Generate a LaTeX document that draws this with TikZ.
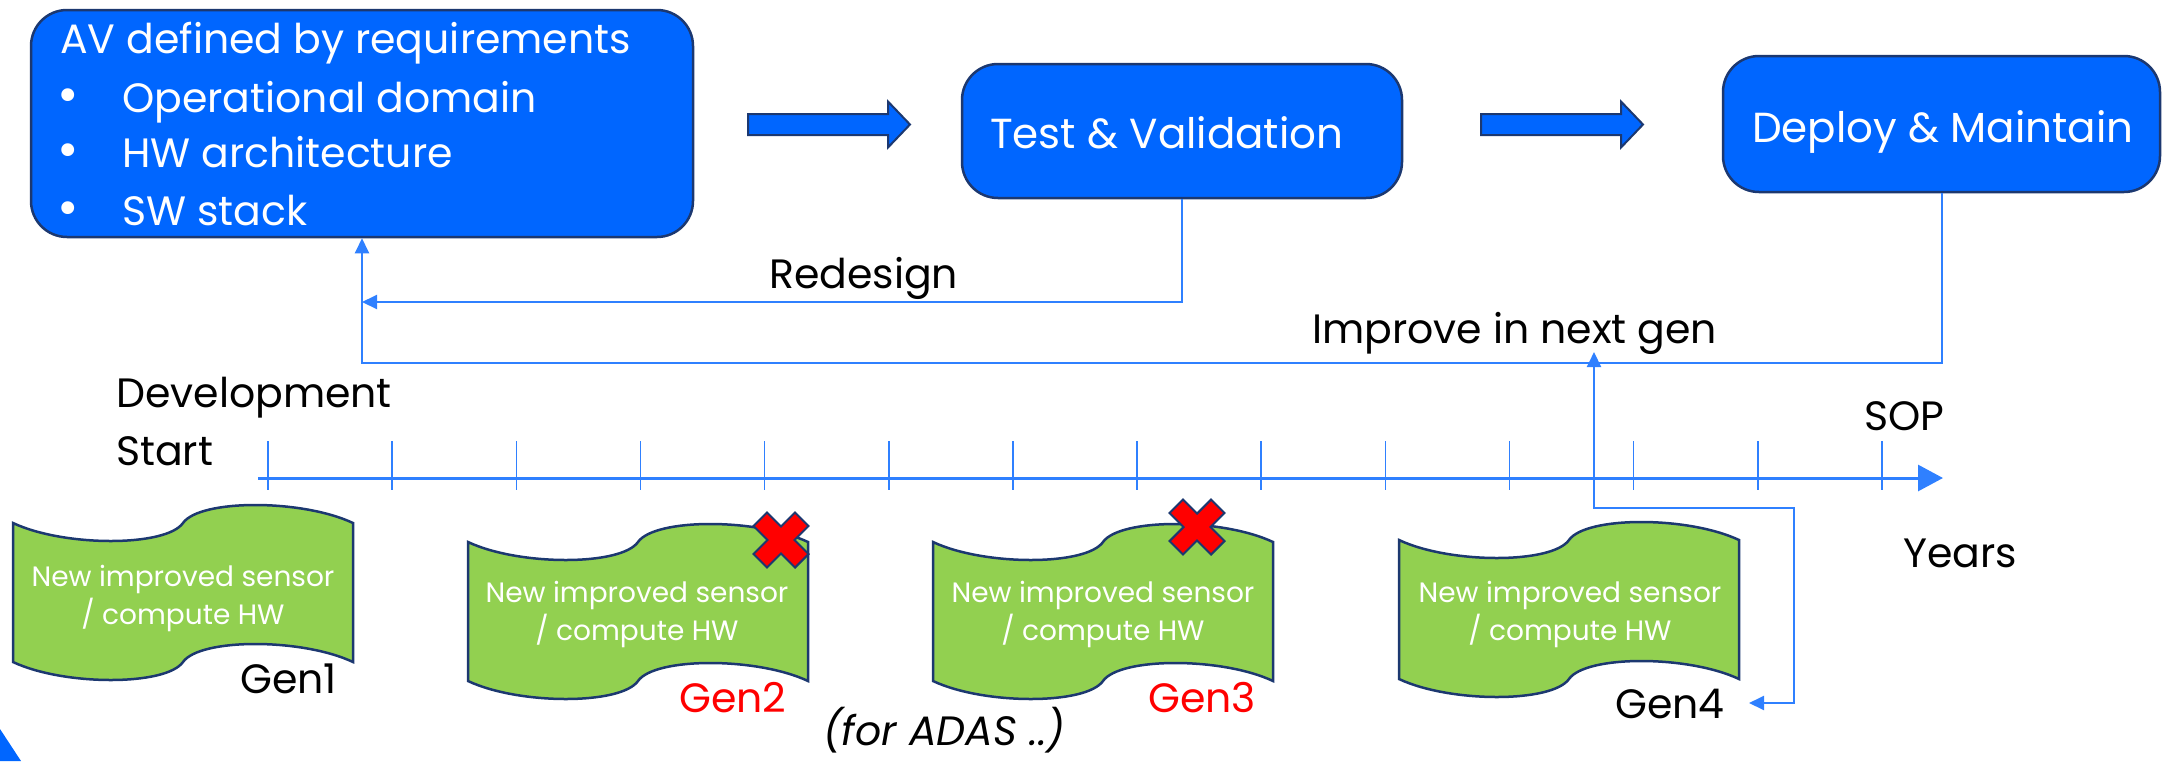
\documentclass[tikz,border=0pt]{standalone}
\usepackage{fontspec}
\setmainfont{Poppins}
\usetikzlibrary{arrows.meta}

\definecolor{boxblue}{HTML}{0066FF}
\definecolor{edgenavy}{HTML}{1C3870}
\definecolor{linkblue}{HTML}{2F80FF}
\definecolor{tapegreen}{HTML}{92D050}
\definecolor{alertred}{HTML}{FF0000}

\tikzset{
  bluebox/.style={draw=edgenavy, line width=2.5pt, fill=boxblue, rounded corners=36pt, inner sep=0pt},
  big/.style={font=\fontsize{41}{49}\selectfont},
  boxfont/.style={font=\fontsize{42}{50}\selectfont},
  small/.style={font=\fontsize{28}{38}\selectfont},
  wtext/.style={text=white, inner sep=0pt, anchor=base west, big},
  ktext/.style={text=black, inner sep=0pt, anchor=base west, big},
  bullet/.style={text=white, inner sep=0pt, anchor=base, font=\fontsize{52}{52}\selectfont},
  tapetext/.style={text=white, inner sep=0pt, align=center, small},
  link/.style={draw=linkblue, line width=2pt},
  linktip/.style={-{Triangle[length=15pt,width=14pt]}},
  bothtips/.style={{Triangle[length=15pt,width=14pt]}-{Triangle[length=15pt,width=14pt]}},
  axisline/.style={draw=linkblue, line width=3pt, -{Triangle[length=25pt,width=26pt]}},
  tickline/.style={draw=linkblue, line width=1.6pt},
  tapebox/.style={fill=tapegreen, draw=edgenavy, line width=2.5pt},
  crossmark/.style={fill=alertred, draw=edgenavy, line width=2pt},
  blockarrow/.style={fill=boxblue, draw=edgenavy, line width=2pt},
}

% wavy punched-tape outline, left/top corner at the scope origin
\newcommand\tapeoutline[2]{%
  \begin{scope}[shift={(#1,#2)}]
    \path[tapebox] (0,0) .. controls (51,24) and (153,24) .. (170,0)
      .. controls (187,-24) and (289,-24) .. (340,0)
      -- (340,139)
      .. controls (289,115) and (187,115) .. (170,139)
      .. controls (153,163) and (51,163) .. (0,139)
      -- cycle;
  \end{scope}}

% red "rejected" cross centred at the given point
\newcommand\rejectmark[2]{%
  \begin{scope}[shift={(#1,#2)}, rotate=45]
    \path[crossmark] (9.5,29.4) -- (9.5,9.5) -- (29.4,9.5) -- (29.4,-9.5)
      -- (9.5,-9.5) -- (9.5,-29.4) -- (-9.5,-29.4) -- (-9.5,-9.5)
      -- (-29.4,-9.5) -- (-29.4,9.5) -- (-9.5,9.5) -- (-9.5,29.4) -- cycle;
  \end{scope}}

% fat block arrow from x=#1 to tip x=#2 on the line y=#3
\newcommand\fatarrow[3]{%
  \path[blockarrow] (#1,#3-10.5) -- (#2-22,#3-10.5) -- (#2-22,#3-23) -- (#2,#3)
    -- (#2-22,#3+23) -- (#2-22,#3+10.5) -- (#1,#3+10.5) -- cycle;}

\begin{document}
\begin{tikzpicture}[x=1pt, y=-1pt]
  \useasboundingbox (0,0) rectangle (2164,761);

  % corner accent
  \fill[boxblue] (0,729) -- (21,761) -- (0,761) -- cycle;

  % process boxes
  \node[bluebox, minimum width=662pt, minimum height=227pt] (av) at (362,123.5) {};
  \node[bluebox, minimum width=440pt, minimum height=134pt] (tv) at (1182,131) {};
  \node[bluebox, minimum width=437pt, minimum height=136pt] (dm) at (1941.5,124) {};

  \node[wtext] (avtitle) at (60,53) {AV defined by requirements};
  \node[bullet] (bul1) at (68,112) {•};
  \node[bullet] (bul2) at (68,167) {•};
  \node[bullet] (bul3) at (68,225) {•};
  \node[wtext] (item1) at (122,112) {Operational domain};
  \node[wtext] (item2) at (122,167) {HW architecture};
  \node[wtext] (item3) at (122,225) {SW stack};
  \node[wtext, boxfont] (tvtext) at (990,148) {Test \& Validation};
  \node[wtext, boxfont] (dmtext) at (1752,142) {Deploy \& Maintain};

  % flow arrows between the boxes
  \fatarrow{748}{910}{124.5}
  \fatarrow{1481}{1643}{124.5}

  % feedback loops
  \coordinate (redy) at (0,302);
  \coordinate (impy) at (0,363);
  \draw[link, linktip] (tv.south) |- (av.south |- redy);
  \draw[link, linktip] (dm.south) |- (av.south |- impy) -- (av.south);
  \node[ktext] (redesign) at (769,288) {Redesign};
  \node[ktext] (improve) at (1312,343) {Improve in next gen};

  % timeline
  \coordinate (axs) at (258,478);
  \coordinate (axe) at (1943,478);
  \draw[axisline] (axs) -- (axe);
  \foreach \k in {0,...,13}
    \draw[tickline] (268+124.15*\k,441) -- (268+124.15*\k,490);
  \node[ktext] (devel) at (116,407) {Development};
  \node[ktext] (start) at (116,465) {Start};
  \node[ktext] (sop) at (1864,430) {SOP};
  \node[ktext] (years) at (1903,567) {Years};

  % hardware generations
  \tapeoutline{13}{523}
  \tapeoutline{468}{542}
  \tapeoutline{933}{542}
  \tapeoutline{1399}{540}
  \node[tapetext] (hw1) at (183,598) {New improved sensor\\/ compute HW};
  \node[tapetext] (hw2) at (637,614) {New improved sensor\\/ compute HW};
  \node[tapetext] (hw3) at (1103,614) {New improved sensor\\/ compute HW};
  \node[tapetext] (hw4) at (1570,614) {New improved sensor\\/ compute HW};
  \rejectmark{781}{540}
  \rejectmark{1197}{527}

  \node[ktext] (gen1) at (240,693) {Gen1};
  \node[ktext, text=alertred] (gen2) at (679,712) {Gen2};
  \node[ktext, text=alertred] (gen3) at (1148,712) {Gen3};
  \node[ktext] (gen4) at (1615,718) {Gen4};
  \node[ktext, font=\fontsize{41}{49}\itshape] (adas) at (823,745) {(for ADAS ..)};

  % next-generation feedback from Gen4
  \coordinate (g4in) at (1749,703);
  \coordinate (g4bend) at (1794,508);
  \coordinate (impin) at (1594,352);
  \draw[link, bothtips] (g4in) -| (g4bend) -| (impin);
\end{tikzpicture}
\end{document}
